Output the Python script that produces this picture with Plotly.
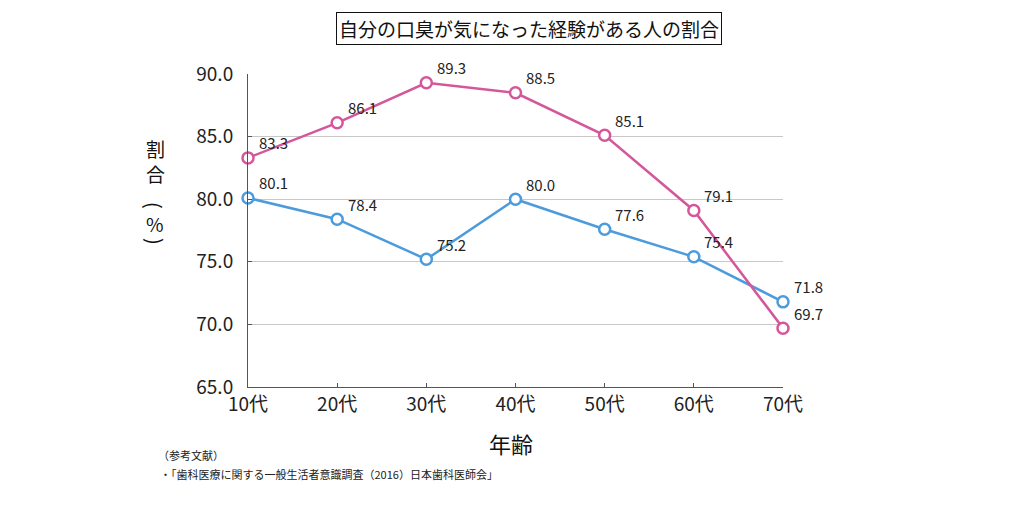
import plotly.graph_objects as go

categories = ["10代", "20代", "30代", "40代", "50代", "60代", "70代"]
pink_values = [83.3, 86.1, 89.3, 88.5, 85.1, 79.1, 69.7]
blue_values = [80.1, 78.4, 75.2, 80.0, 77.6, 75.4, 71.8]
y_ticks = [65.0, 70.0, 75.0, 80.0, 85.0, 90.0]

PINK = "#D4579A"
BLUE = "#4C9BDC"
FONT = "Noto Sans CJK JP"

# page body has an 8px default margin; compensate in plot margins
L, T, PW, PH = 240, 66, 535, 313
W, H = 1024, 513

fig = go.Figure()
for vals, col in [(blue_values, BLUE), (pink_values, PINK)]:
    fig.add_trace(go.Scatter(
        x=list(range(len(categories))), y=vals, mode="lines+markers",
        line=dict(color=col, width=2.5),
        marker=dict(symbol="circle", size=11, color="white", line=dict(color=col, width=2.5)),
        showlegend=False, cliponaxis=False,
    ))
    for i, v in enumerate(vals):
        fig.add_annotation(x=i, y=v, text=f"{v:.1f}", showarrow=False,
                           xshift=25, yshift=15,
                           font=dict(family=FONT, size=15, color="#222"))

fig.update_layout(
    width=W, height=H,
    margin=dict(l=L, r=W - L - PW, t=T, b=H - T - PH, autoexpand=False),
    paper_bgcolor="white", plot_bgcolor="white",
    font=dict(family=FONT, color="#222"),
    xaxis=dict(range=[0, 6], tickmode="array", tickvals=list(range(len(categories))),
               ticktext=categories, showgrid=False, zeroline=False,
               showline=True, linecolor="#555", linewidth=1,
               ticks="inside", ticklen=4, tickcolor="#555",
               tickfont=dict(size=19, family=FONT)),
    yaxis=dict(range=[65, 90], tickmode="array", tickvals=y_ticks,
               ticktext=[f"{t:.1f}" for t in y_ticks],
               showgrid=True, gridcolor="#c8c8c8", gridwidth=1, zeroline=False,
               showline=True, linecolor="#555", linewidth=1,
               ticks="inside", ticklen=4, tickcolor="#555",
               tickfont=dict(size=19, family=FONT), ticklabelstandoff=10),
)

def py(pixel_y):
    # page pixel y (reference) -> paper coordinate
    return (74 + PH - pixel_y) / PH

# Title box
fig.add_annotation(xref="paper", yref="paper", x=(529 - 248) / PW, y=py(28), text="自分の口臭が気になった経験がある人の割合",
                   showarrow=False, font=dict(family=FONT, size=19, color="#111"),
                   bordercolor="#111", borderwidth=1, borderpad=2, bgcolor="white",
                   xanchor="center", yanchor="middle")
# X axis title
fig.add_annotation(xref="paper", yref="paper", x=(511 - 248) / PW, y=py(443), text="年齢",
                   showarrow=False, font=dict(family=FONT, size=22, color="#111"),
                   xanchor="center", yanchor="middle")
# Y axis title (vertical writing)
YT_X = (155 - 248) / PW
fig.add_annotation(xref="paper", yref="paper", x=YT_X, y=py(161),
                   text="割<br>合", showarrow=False,
                   font=dict(family=FONT, size=19, color="#111"),
                   xanchor="center", yanchor="middle", align="center")
fig.add_annotation(xref="paper", yref="paper", x=YT_X, y=py(205), text="(", textangle=90,
                   showarrow=False, font=dict(family=FONT, size=20, color="#111"),
                   xanchor="center", yanchor="middle")
fig.add_annotation(xref="paper", yref="paper", x=YT_X, y=py(223), text="%",
                   showarrow=False, font=dict(family=FONT, size=19, color="#111"),
                   xanchor="center", yanchor="middle")
fig.add_annotation(xref="paper", yref="paper", x=YT_X, y=py(241), text=")", textangle=90,
                   showarrow=False, font=dict(family=FONT, size=20, color="#111"),
                   xanchor="center", yanchor="middle")
# References
fig.add_annotation(xref="paper", yref="paper", x=(156 - 248) / PW, y=py(455),
                   text="（参考文献）", showarrow=False,
                   font=dict(family=FONT, size=11, color="#222"), xanchor="left", yanchor="middle")
fig.add_annotation(xref="paper", yref="paper", x=(158 - 248) / PW, y=py(474),
                   text="・「歯科医療に関する一般生活者意識調査（2016）日本歯科医師会」", showarrow=False,
                   font=dict(family=FONT, size=11, color="#222"), xanchor="left", yanchor="middle")

fig.write_html("out.html")
